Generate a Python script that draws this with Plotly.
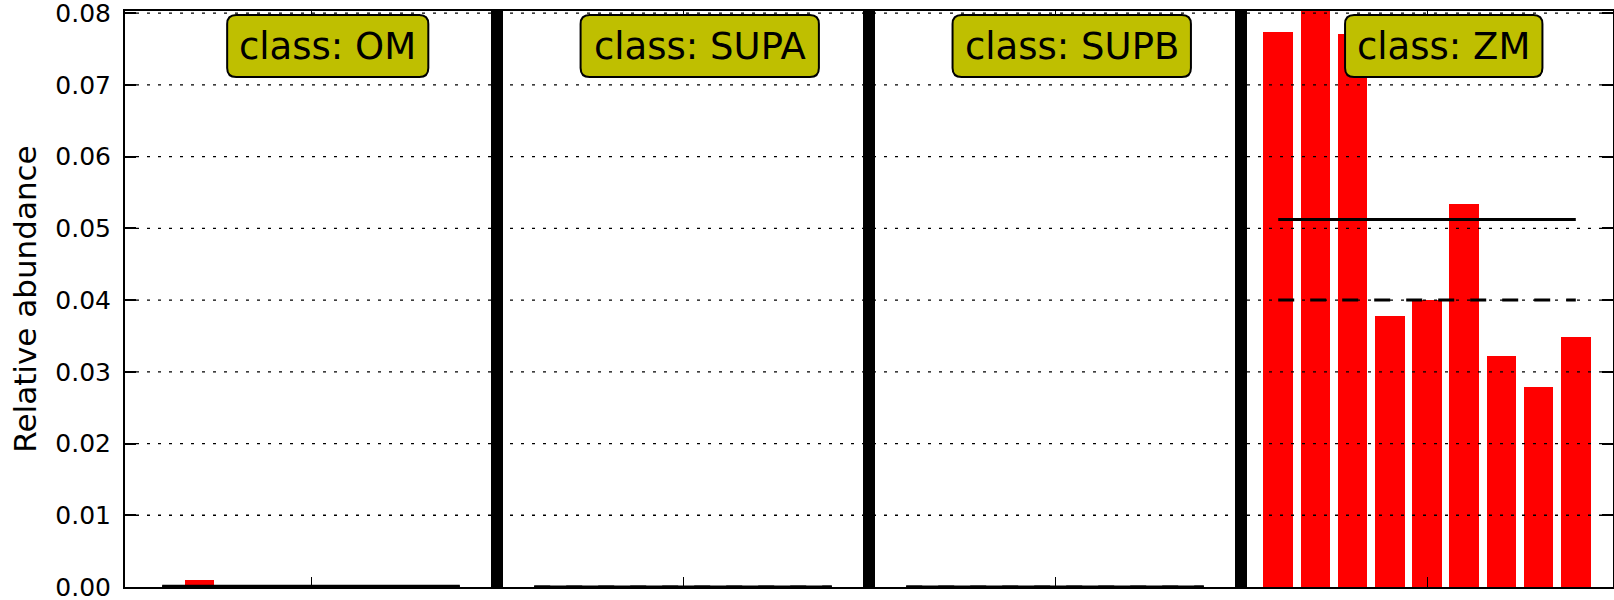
import numpy as np
import plotly.graph_objects as go

# ---- data ----
classes = ["OM", "SUPA", "SUPB", "ZM"]
om_values = [0.0, 0.00098, 0.0, 0.0, 0.0, 0.0, 0.0, 0.0, 0.0]
supa_values = [0.0, 0.0, 0.0, 0.0, 0.0, 0.0, 0.0, 0.0, 0.0]
supb_values = [0.0, 0.0, 0.0, 0.0, 0.0, 0.0, 0.0, 0.0, 0.0]
zm_values = [0.0774, 0.0803, 0.0771, 0.0378, 0.0400, 0.0534, 0.0322, 0.0279, 0.0349]
ytick_vals = [0.00, 0.01, 0.02, 0.03, 0.04, 0.05, 0.06, 0.07, 0.08]
y_title = "Relative abundance"

class_values = [om_values, supa_values, supb_values, zm_values]

# ---- style ----
FONT = "DejaVu Sans"
BAR_COLOR = "#FF0000"
BOX_COLOR = "#BFBF00"
BLOCK = 10          # x units per class block
LABEL_FS = 37
TICK_FS = 25
TITLE_FS = 31

# approximate DejaVu Sans advance widths (em) to size the rounded label boxes
_w = {"c": 0.550, "l": 0.278, "a": 0.613, "s": 0.521, ":": 0.337, " ": 0.318,
      "O": 0.787, "M": 0.863, "S": 0.635, "U": 0.732, "P": 0.603, "A": 0.684,
      "B": 0.686, "Z": 0.685}


def text_px(t, fs):
    return sum(_w.get(ch, 0.6) for ch in t) * fs


fig = go.Figure()

all_vals = []
for k, (cls, vals) in enumerate(zip(classes, class_values)):
    xs = [k * BLOCK + 1 + j for j in range(len(vals))]
    all_vals += list(vals)
    fig.add_trace(go.Bar(x=xs, y=vals, width=0.8, marker=dict(color=BAR_COLOR, line=dict(width=0)),
                         showlegend=False, hoverinfo="x+y"))

# mean / median lines
for k, (cls, vals) in enumerate(zip(classes, class_values)):
    xs = [k * BLOCK + 1 + j for j in range(len(vals))]
    m = float(np.mean(vals))
    md = float(np.median(vals))
    fig.add_trace(go.Scatter(x=[xs[0], xs[-1]], y=[m, m], mode="lines",
                             line=dict(color="black", width=3), showlegend=False, hoverinfo="skip"))
    fig.add_trace(go.Scatter(x=[xs[0], xs[-1]], y=[md, md], mode="lines",
                             line=dict(color="black", width=3, dash="16px,16px"),
                             showlegend=False, hoverinfo="skip"))

ymax = max(all_vals)
nblocks = len(classes)

shapes = []
# dotted grid drawn above bars
for v in ytick_vals[1:]:
    shapes.append(dict(type="line", xref="paper", yref="y", x0=0, x1=1, y0=v, y1=v,
                       line=dict(color="black", width=1.3, dash="3px,8px"), layer="above"))
# thick class separators
for k in range(1, nblocks):
    shapes.append(dict(type="line", xref="x", yref="paper", x0=k * BLOCK, x1=k * BLOCK, y0=0, y1=1,
                       line=dict(color="black", width=12), layer="above"))

annotations = []
for k, cls in enumerate(classes):
    label = "class: " + cls
    xa = k * BLOCK + BLOCK / 2 + 0.45
    w = text_px(label, LABEL_FS) + 24
    x0, x1 = -w / 2, w / 2
    yt, yb = -4, -66
    r = 9
    path = (f"M {x0 + r},{yt} L {x1 - r},{yt} Q {x1},{yt} {x1},{yt - r} "
            f"L {x1},{yb + r} Q {x1},{yb} {x1 - r},{yb} L {x0 + r},{yb} "
            f"Q {x0},{yb} {x0},{yb + r} L {x0},{yt - r} Q {x0},{yt} {x0 + r},{yt} Z")
    shapes.append(dict(type="path", xref="x", yref="paper", xsizemode="pixel", ysizemode="pixel",
                       xanchor=xa, yanchor=1, path=path, fillcolor=BOX_COLOR,
                       line=dict(color="black", width=2), layer="above"))
    annotations.append(dict(x=xa, y=1, xref="x", yref="paper", text=label, showarrow=False,
                            xanchor="center", yanchor="middle", yshift=-35,
                            font=dict(family=FONT, size=LABEL_FS, color="black")))

fig.update_layout(
    template="none",
    width=1614, height=600,
    margin=dict(l=125, r=1, t=11, b=13, autoexpand=False),
    paper_bgcolor="white", plot_bgcolor="white",
    bargap=0,
    shapes=shapes, annotations=annotations,
    font=dict(family=FONT, color="black"),
    showlegend=False,
)
fig.update_xaxes(range=[0, nblocks * BLOCK], showgrid=False, zeroline=False, automargin=False,
                 tickmode="array", tickvals=[k * BLOCK + BLOCK / 2 for k in range(nblocks)],
                 showticklabels=False, ticks="inside", ticklen=10, tickwidth=1, tickcolor="black",
                 showline=True, linecolor="black", linewidth=2, mirror="ticks")
fig.update_yaxes(range=[0, ymax], showgrid=False, zeroline=False, automargin=False,
                 tickmode="array", tickvals=ytick_vals, ticktext=[f"{v:.2f}" for v in ytick_vals],
                 ticks="inside", ticklen=11, tickwidth=1.5, tickcolor="black",
                 showline=True, linecolor="black", linewidth=2, mirror="ticks",
                 ticklabeloverflow="allow",
                 tickfont=dict(family=FONT, size=TICK_FS, color="black"),
                 ticklabelstandoff=7,
                 title=dict(text=y_title, font=dict(family=FONT, size=TITLE_FS, color="black"),
                            standoff=9))

fig.write_html("out.html", config={"displayModeBar": False},
               post_script="document.body.style.margin='0';document.body.style.overflow='hidden';")
